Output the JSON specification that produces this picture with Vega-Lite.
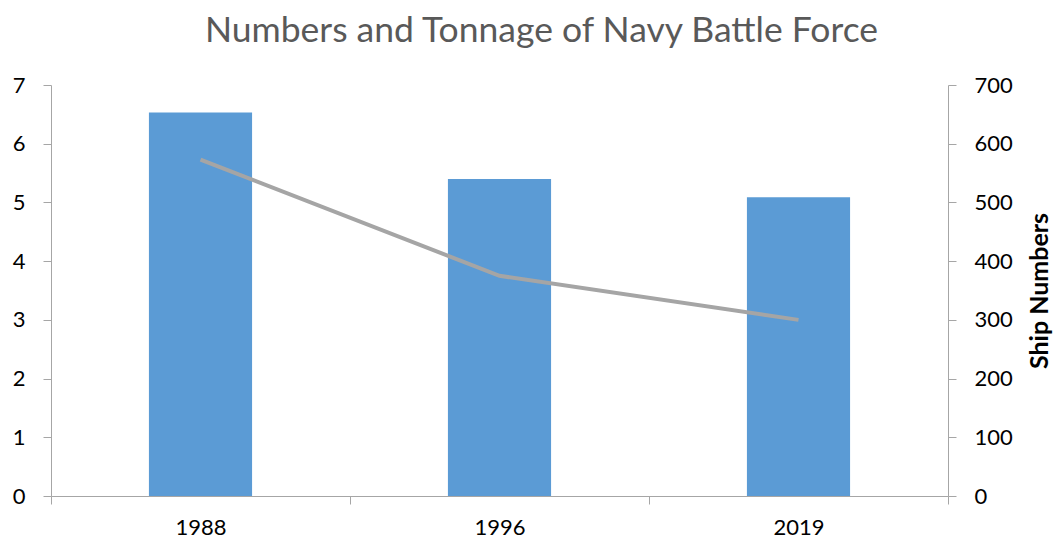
{
  "$schema": "https://vega.github.io/schema/vega-lite/v6.json",
  "autosize": "none",
  "width": 897,
  "height": 411,
  "padding": {"left": 51, "top": 85, "right": 106, "bottom": 45},
  "background": "white",
  "config": {
    "view": {"stroke": null},
    "font": "Lato",
    "axis": {"grid": false, "domainColor": "#A6A6A6", "tickColor": "#A6A6A6", "labelColor": "#000000", "labelFont": "Lato", "labelFontSize": 22, "tickSize": 8, "labelPadding": 16}
  },
  "title": {
    "text": "Numbers and Tonnage of Navy Battle Force",
    "font": "Lato",
    "fontSize": 35.5,
    "fontWeight": "normal",
    "color": "#595959",
    "frame": "group",
    "anchor": "middle",
    "baseline": "alphabetic",
    "offset": -3,
    "dx": 42
  },
  "data": {
    "values": [
      {"year": "1988", "tonnage": 6.53, "ships": 573},
      {"year": "1996", "tonnage": 5.40, "ships": 375},
      {"year": "2019", "tonnage": 5.09, "ships": 300}
    ]
  },
  "encoding": {
    "x": {
      "field": "year",
      "type": "nominal",
      "scale": {"paddingInner": 0, "paddingOuter": 0},
      "axis": {"title": null, "labelAngle": 0, "tickBand": "extent", "labelPadding": 13}
    }
  },
  "layer": [
    {
      "mark": {"type": "bar", "color": "#5B9BD5", "width": {"band": 0.345}},
      "encoding": {
        "y": {
          "field": "tonnage",
          "type": "quantitative",
          "scale": {"domain": [0, 7], "nice": false},
          "axis": {"title": null, "values": [0, 1, 2, 3, 4, 5, 6, 7], "labelPadding": 18}
        }
      }
    },
    {
      "mark": {"type": "line", "color": "#A5A5A5", "strokeWidth": 4},
      "encoding": {
        "y": {
          "field": "ships",
          "type": "quantitative",
          "scale": {"domain": [0, 700], "nice": false},
          "axis": {
            "orient": "right",
            "title": "Ship Numbers",
            "titleFont": "Lato",
            "titleFontSize": 25,
            "titleFontWeight": "bold",
            "titleColor": "#000000",
            "titleAngle": 270,
            "titlePadding": 40,
            "values": [0, 100, 200, 300, 400, 500, 600, 700],
            "labelPadding": 18
          }
        }
      }
    }
  ],
  "resolve": {"scale": {"y": "independent"}}
}
